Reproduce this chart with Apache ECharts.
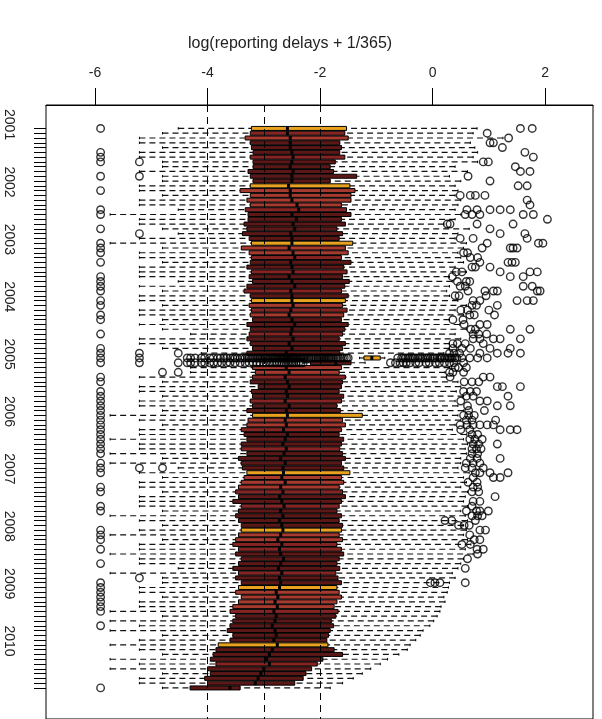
<!DOCTYPE html>
<html><head><meta charset="utf-8">
<script src="https://cdn.jsdelivr.net/npm/echarts@6/dist/echarts.min.js"></script>
<style>html,body{margin:0;padding:0;background:#fff}#c{width:602px;height:719px}</style>
</head><body><div id="c"></div>
<script>
// ---- data (one box per month, Jan 2001 .. Oct 2010) ----
const years = ['2001','2002','2003','2004','2005','2006','2007','2008','2009','2010'];
const xTicks = [-6, -4, -2, 0, 2];
const refLines = [-4, -3, -2];
const titleText = 'log(reporting delays + 1/365)';

const wlo = [
 -4.52,-4.80,-5.21,-5.21,-4.80,-5.21,-5.21,-4.80,-4.80,-5.21,-4.80,-4.80,
 -5.21,-5.21,-4.80,-5.21,-5.21,-4.52,-5.73,-5.21,-5.21,-4.80,-4.52,-5.21,
 -5.73,-4.80,-5.21,-5.21,-4.80,-5.21,-5.21,-5.21,-4.52,-5.21,-4.80,-5.21,
 -5.21,-4.80,-5.21,-5.21,-4.80,-5.21,-4.80,-4.30,-5.21,-5.21,-4.80,-4.11,
 -1.30,-2.29,-4.30,-4.30,-5.21,-4.80,-5.21,-5.21,-4.80,-5.21,-5.21,-4.80,
 -5.73,-5.21,-4.80,-5.21,-5.21,-5.73,-5.21,-5.21,-5.73,-4.80,-5.73,-4.52,
 -5.21,-4.80,-5.21,-5.21,-4.80,-5.21,-5.21,-5.21,-4.80,-5.73,-5.21,-4.80,
 -5.21,-5.73,-4.80,-5.21,-5.21,-5.73,-5.21,-5.21,-4.52,-5.73,-4.80,-4.80,
 -5.21,-5.21,-4.80,-5.21,-5.21,-5.73,-4.80,-5.73,-5.21,-5.73,-4.80,-5.21,
 -5.73,-5.21,-4.80,-5.73,-5.21,-5.73,-4.80,-5.21,-5.21,-4.80
];
const q1 = [
 -3.22,-3.24,-3.33,-3.24,-3.22,-3.19,-3.24,-3.19,-3.19,-3.28,-3.24,-3.19,
 -3.24,-3.42,-3.24,-3.30,-3.24,-3.33,-3.28,-3.28,-3.35,-3.30,-3.38,-3.26,
 -3.22,-3.40,-3.26,-3.22,-3.24,-3.30,-3.22,-3.26,-3.20,-3.30,-3.35,-3.24,
 -3.22,-3.26,-3.22,-3.24,-3.20,-3.30,-3.24,-3.26,-3.30,-3.24,-3.20,-3.30,
 -1.22,-2.17,-3.20,-3.15,-3.20,-3.24,-3.10,-3.22,-3.20,-3.24,-3.20,-3.30,
 -3.20,-3.28,-3.30,-3.40,-3.35,-3.30,-3.40,-3.40,-3.30,-3.45,-3.40,-3.38,
 -3.30,-3.35,-3.40,-3.45,-3.50,-3.45,-3.55,-3.40,-3.45,-3.50,-3.45,-3.40,
 -3.40,-3.45,-3.50,-3.55,-3.45,-3.50,-3.40,-3.45,-3.55,-3.45,-3.50,-3.40,
 -3.45,-3.50,-3.40,-3.45,-3.55,-3.60,-3.50,-3.55,-3.60,-3.65,-3.55,-3.60,
 -3.81,-3.85,-3.90,-3.95,-3.85,-4.00,-3.95,-4.05,-4.00,-4.31
];
const med = [
 -2.58,-2.58,-2.53,-2.53,-2.53,-2.50,-2.48,-2.50,-2.53,-2.48,-2.50,-2.50,
 -2.56,-2.53,-2.53,-2.50,-2.41,-2.38,-2.50,-2.42,-2.48,-2.45,-2.52,-2.50,
 -2.50,-2.55,-2.48,-2.45,-2.52,-2.50,-2.48,-2.55,-2.50,-2.45,-2.52,-2.50,
 -2.50,-2.48,-2.52,-2.55,-2.50,-2.45,-2.50,-2.52,-2.48,-2.55,-2.50,-2.60,
 -1.08,-1.72,-2.60,-2.55,-2.62,-2.58,-2.55,-2.60,-2.58,-2.62,-2.55,-2.60,
 -2.58,-2.62,-2.60,-2.65,-2.58,-2.62,-2.66,-2.60,-2.64,-2.70,-2.62,-2.66,
 -2.65,-2.68,-2.62,-2.70,-2.66,-2.72,-2.68,-2.64,-2.70,-2.66,-2.72,-2.68,
 -2.66,-2.70,-2.75,-2.68,-2.72,-2.70,-2.65,-2.70,-2.74,-2.68,-2.72,-2.70,
 -2.72,-2.78,-2.75,-2.80,-2.76,-2.82,-2.78,-2.80,-2.85,-2.80,-2.78,-2.82,
 -2.76,-2.85,-2.90,-2.95,-2.90,-3.00,-3.05,-3.10,-3.15,-3.60
];
const q3 = [
 -1.53,-1.56,-1.50,-1.65,-1.62,-1.65,-1.56,-1.73,-1.82,-1.76,-1.35,-1.82,
 -1.47,-1.38,-1.45,-1.45,-1.62,-1.53,-1.45,-1.62,-1.55,-1.70,-1.60,-1.66,
 -1.42,-1.55,-1.50,-1.62,-1.45,-1.58,-1.52,-1.60,-1.48,-1.56,-1.62,-1.50,
 -1.55,-1.60,-1.52,-1.58,-1.62,-1.50,-1.56,-1.60,-1.66,-1.55,-1.60,-1.65,
 -0.93,-1.45,-1.62,-1.66,-1.55,-1.60,-1.62,-1.66,-1.58,-1.62,-1.70,-1.64,
 -1.25,-1.60,-1.55,-1.62,-1.66,-1.58,-1.62,-1.65,-1.60,-1.55,-1.62,-1.58,
 -1.47,-1.62,-1.58,-1.66,-1.60,-1.55,-1.62,-1.66,-1.70,-1.62,-1.66,-1.60,
 -1.62,-1.66,-1.60,-1.70,-1.62,-1.58,-1.66,-1.70,-1.65,-1.72,-1.68,-1.62,
 -1.70,-1.66,-1.62,-1.70,-1.75,-1.68,-1.72,-1.80,-1.76,-1.82,-1.85,-1.88,
 -1.86,-1.75,-1.60,-1.95,-2.05,-2.15,-2.25,-2.30,-2.45,-3.42
];
const whi = [
 0.79,0.72,1.25,0.67,0.75,0.80,0.72,0.80,0.40,0.62,0.30,0.50,
 0.40,0.45,0.40,0.50,0.45,0.40,0.50,0.40,0.20,0.65,0.45,0.40,
 0.60,0.55,0.45,0.50,0.55,0.40,0.60,0.30,0.35,0.30,0.25,0.30,
 0.45,0.60,0.40,0.55,0.30,0.48,0.60,0.40,0.50,0.30,0.30,0.20,
 -0.85,-1.20,0.30,0.22,0.25,0.45,0.50,0.42,0.55,0.40,0.45,0.55,
 0.45,0.50,0.40,0.35,0.60,0.55,0.62,0.58,0.60,0.50,0.50,0.45,
 0.65,0.55,0.60,0.50,0.62,0.58,0.55,0.62,0.50,0.58,0.62,0.55,
 0.60,0.55,0.62,0.68,0.58,0.72,0.55,0.50,0.45,0.35,0.40,0.30,
 0.28,0.26,0.20,0.22,0.15,0.13,0.08,0.02,-0.05,-0.17,-0.22,-0.30,
 -0.40,-0.45,-0.60,-0.80,-0.93,-1.10,-1.25,-1.41,-1.60,-1.82
];
// fill class per month: Y yellow, L light, M medium, D dark
const fillCodes =
 'YMLDDDMDDDDD' + 'YLLLLMDDDDDD' + 'YLLMDDMDDDMD' + 'YLMLDDDMDDDD' + 'YDLLMDDDDMDD' +
 'YLLMDDDMDDDD' + 'YLLLMDDMDDDD' + 'YLLMMDDDDMDD' + 'YLLLLMDDDDDD' + 'YDDDMDDDDD';

// outliers: [monthIndex, value]
const lowOutliers = [
 [0,-5.9],[5,-5.9],[6,-5.9],[7,-5.9],[10,-5.9],[13,-5.9],[17,-5.9],[18,-5.9],[21,-5.9],
 [24,-5.9],[25,-5.9],[26,-5.9],[28,-5.9],[31,-5.9],[32,-5.9],[33,-5.9],[34,-5.9],[36,-5.9],
 [37,-5.9],[39,-5.9],[40,-5.9],[43,-5.9],[46,-5.9],[47,-5.9],[48,-5.9],[49,-5.9],[52,-5.9],
 [53,-5.9],[55,-5.9],[56,-5.9],[57,-5.9],[58,-5.9],[59,-5.9],[60,-5.9],[61,-5.9],[62,-5.9],
 [63,-5.9],[64,-5.9],[65,-5.9],[66,-5.9],[67,-5.9],[68,-5.9],[70,-5.9],[71,-5.9],[72,-5.9],
 [75,-5.9],[76,-5.9],[79,-5.9],[80,-5.9],[84,-5.9],[85,-5.9],[86,-5.9],[88,-5.9],[91,-5.9],
 [95,-5.9],[96,-5.9],[97,-5.9],[98,-5.9],[99,-5.9],[100,-5.9],[101,-5.9],[104,-5.9],[117,-5.9],
 [7,-5.21],[10,-5.21],[22,-5.21],[47,-5.21],[48,-5.21],[49,-5.21],[71,-5.21],[94,-5.21],
 [47,-4.52],[51,-4.80],[51,-4.52],[71,-4.80],
 [48,-4.36],[48,-4.30],[48,-4.22],[48,-4.11],[48,-4.05],[48,-3.96],[48,-3.90],[48,-3.82],[48,-3.77],
 [48,-3.71],[48,-3.66],[48,-3.60],[48,-3.55],[48,-3.51],[48,-3.47],[48,-3.42],[48,-3.38],[48,-3.33],
 [48,-3.29],[48,-3.26],[48,-3.22],[48,-3.19],[48,-3.16],[48,-3.12],[48,-3.10],[48,-3.07],[48,-3.04],
 [48,-3.01],[48,-2.98],[48,-2.96],[48,-2.93],[48,-2.90],[48,-2.88],[48,-2.86],[48,-2.83],[48,-2.81],
 [48,-2.79],[48,-2.77],[48,-2.74],[48,-2.72],[48,-2.70],[48,-2.68],[48,-2.66],[48,-2.64],[48,-2.63],
 [48,-2.61],[48,-2.59],[48,-2.57],[48,-2.55],[48,-2.53],[48,-2.51],[48,-2.50],[48,-2.48],[48,-2.47],
 [48,-2.45],[48,-2.43],[48,-2.41],[48,-2.38],[48,-2.36],[48,-2.34],[48,-2.31],[48,-2.29],[48,-2.27],
 [48,-2.24],[48,-2.21],[48,-2.19],[48,-2.16],[48,-2.13],[48,-2.10],[48,-2.07],[48,-2.04],[48,-2.02],
 [48,-1.99],[48,-1.97],[48,-1.94],[48,-1.92],[48,-1.89],[48,-1.87],[48,-1.85],[48,-1.83],[48,-1.81],
 [48,-1.79],[48,-1.76],[48,-1.72],[48,-1.68],[48,-1.64],[48,-1.60],[48,-1.57],[48,-1.53],[48,-1.50],
 [49,-4.52],[49,-4.36],[49,-4.30],[49,-4.22],[49,-4.11],[49,-4.05],[49,-3.96],[49,-3.89],[49,-3.82],
 [49,-3.75],[49,-3.66],[49,-3.60],[49,-3.51],[49,-3.42],[49,-3.33],[49,-3.26],[49,-3.19],[49,-3.12],
 [49,-3.07],[49,-3.01],[49,-2.96],[49,-2.90],[49,-2.86],[49,-2.81],[49,-2.77],[49,-2.72],[49,-2.68],
 [49,-2.64],[49,-2.61],[49,-2.57],[49,-2.53],[49,-2.50],[49,-2.47],[49,-2.43],[49,-2.38],[49,-2.34],
 [49,-2.30]
];
const highOutliers = [
 [0,1.56],[0,1.77],[1,0.97],[2,1.35],[3,1.02],[3,1.08],[4,1.24],[5,1.64],[6,1.79],[7,0.90],
 [7,0.99],[8,1.47],[9,1.56],[9,1.73],[10,0.63],[11,1.02],[12,1.52],[12,1.68],[14,0.49],[14,0.67],
 [14,0.76],[14,0.93],[15,1.68],[16,1.73],[17,0.61],[17,0.79],[17,1.02],[17,1.20],[17,1.38],[18,0.58],
 [18,0.70],[18,0.84],[18,1.61],[18,1.79],[19,2.04],[20,0.26],[20,0.31],[20,0.79],[20,1.43],[21,1.02],
 [22,1.20],[22,1.64],[23,0.49],[23,0.72],[23,1.68],[24,1.88],[24,1.96],[24,0.97],[25,0.88],[25,1.38],
 [25,1.43],[25,1.50],[27,0.67],[28,0.84],[28,1.34],[28,1.41],[28,1.47],[29,1.02],[30,1.20],[30,1.73],
 [30,1.86],[31,1.38],[31,1.61],[31,0.35],[32,0.44],[33,0.49],[33,1.61],[33,1.77],[34,0.63],[34,0.93],
 [34,1.08],[34,1.15],[34,1.86],[34,1.91],[36,0.72],[36,0.84],[37,1.15],[36,1.50],[36,1.68],[36,1.79],
 [40,0.36],[40,0.54],[41,0.84],[41,0.97],[43,0.72],[44,1.08],[44,1.20],[42,1.38],[44,1.56],[42,1.73],
 [44,0.72],[44,0.84],[46,0.36],[46,0.52],[46,0.67],[47,0.84],[46,1.02],[47,1.15],[47,1.34],[46,1.38],
 [47,1.56],
 [26,0.55],[26,0.62],[27,0.80],[29,0.70],[29,0.76],[30,0.42],[30,0.52],[32,0.60],[32,0.66],[33,0.58],
 [35,0.40],[35,0.47],[35,0.95],[37,0.70],[37,0.78],[38,0.50],[38,0.62],[38,1.00],[39,0.66],[39,0.74],
 [39,1.10],[41,0.56],[42,0.68],[42,0.76],[43,0.82],[43,0.96],[45,0.36],[45,0.44],[45,0.58],[45,0.90],
 [47,0.30],[47,0.38],[47,0.48],
 [48,-0.62],[48,-0.55],[48,-0.52],[48,-0.48],[48,-0.44],[48,-0.41],[48,-0.37],[48,-0.34],[48,-0.31],
 [48,-0.26],[48,-0.22],[48,-0.18],[48,-0.14],[48,-0.11],[48,-0.08],[48,-0.04],[48,0.01],[48,0.04],
 [48,0.08],[48,0.12],[48,0.15],[48,0.17],[48,0.22],[48,0.26],[48,0.30],[48,0.33],[48,0.35],[48,0.40],
 [48,0.43],[48,0.52],[48,0.66],[48,0.80],[48,0.97],
 [49,-0.75],[49,-0.66],[49,-0.58],[49,-0.52],[49,-0.47],[49,-0.40],[49,-0.30],[49,-0.24],[49,-0.12],
 [49,-0.06],[49,0.05],[49,0.12],[49,0.21],[49,0.30],[49,0.38],[49,0.55],
 [50,0.40],[50,0.46],[50,0.60],[51,0.30],[51,0.36],[51,0.55],[53,0.56],[53,0.82],[55,0.55],[55,0.78],
 [56,0.60],[56,0.72],[57,0.50],[58,0.62],[59,0.64],[59,0.92],[60,0.55],[60,0.64],[60,0.74],[61,0.60],
 [61,0.70],[61,1.12],[62,0.97],[63,0.50],[63,0.66],[64,0.70],[64,0.80],[65,0.66],[65,0.75],[65,0.88],
 [66,0.72],[66,0.82],[67,0.70],[67,0.78],[67,0.86],[68,0.70],[68,0.80],[70,0.60],[70,0.72],[70,0.84],
 [71,0.70],[72,0.76],[72,0.84],[73,0.72],[75,0.72],[75,0.80],[76,0.70],[76,0.82],[78,0.72],[78,0.84],
 [79,0.70],[81,0.70],[81,0.80],[81,0.88],[83,0.56],[85,0.66],[86,0.74],[86,0.84],[89,0.80],[90,0.62],
 [52,0.31],[53,0.70],[55,0.67],[52,0.90],[52,1.02],[54,1.15],[54,1.24],[56,1.34],[54,1.56],[57,0.84],
 [57,0.97],[58,1.15],[58,1.38],[62,0.49],[62,0.61],[62,0.72],[62,0.84],[62,1.08],[63,1.20],[63,1.38],
 [63,1.50],[66,1.15],[69,1.20],[72,1.34],[69,0.67],[69,0.79],[71,0.90],[72,1.02],[73,1.08],[73,1.20],
 [71,0.58],[74,0.63],[74,0.79],[77,1.11],[80,0.60],[80,0.78],[80,0.84],[80,0.99],[82,0.22],[82,0.34],
 [83,0.46],[83,0.65],[82,0.76],[84,0.84],[84,0.94],[87,0.52],[87,0.67],[88,0.79],[88,0.90],[92,0.58],
 [95,-0.04],[95,0.04],[95,0.13],[95,0.58]
];

// ---- chart ----
const fills = {Y:'#E8A21E', L:'#A63A2E', M:'#862424', D:'#5C1717'};
const boxData = q1.map((v, i) => [i, wlo[i], q1[i], med[i], q3[i], whi[i]]);
const tickIdx = q1.map((v, i) => i);
const yearIdx = years.map((y, k) => k * 12 - 0.8);
const FONT = 'Liberation Sans, Arial, sans-serif';

function renderBox(params, api) {
  const i = api.value(0);
  const lo = api.value(1), a = api.value(2), m = api.value(3), b = api.value(4), hi = api.value(5);
  const yc = api.coord([0, i])[1];
  const band = api.size([0, 1])[1];
  const h = band * 0.42;
  const X = v => api.coord([v, i])[0];
  const dash = {stroke: '#111', lineWidth: 1.2, lineDash: [6, 4]};
  const solid = {stroke: '#000', lineWidth: 1};
  return {type: 'group', children: [
    {type: 'line', shape: {x1: X(lo), y1: yc, x2: X(a), y2: yc}, style: dash},
    {type: 'line', shape: {x1: X(hi), y1: yc, x2: X(b), y2: yc}, style: dash},
    {type: 'line', shape: {x1: X(lo), y1: yc - h * 0.6, x2: X(lo), y2: yc + h * 0.6}, style: solid},
    {type: 'line', shape: {x1: X(hi), y1: yc - h * 0.6, x2: X(hi), y2: yc + h * 0.6}, style: solid},
    {type: 'rect', shape: {x: X(a), y: yc - h, width: X(b) - X(a), height: 2 * h},
      style: {fill: fills[fillCodes[i]], stroke: '#000', lineWidth: 1}},
    {type: 'line', shape: {x1: X(m), y1: yc - h, x2: X(m), y2: yc + h}, style: {stroke: '#000', lineWidth: 3}}
  ]};
}

const chart = echarts.init(document.getElementById('c'), null, {renderer: 'canvas'});
chart.setOption({
  animation: false,
  backgroundColor: '#fff',
  title: {text: titleText, left: 183, top: 31,
    textStyle: {fontFamily: FONT, fontSize: 16, fontWeight: 'normal', color: '#222'}},
  grid: {left: 46, right: 9, top: 105, bottom: -8, show: true, borderColor: '#000', borderWidth: 1},
  xAxis: {type: 'value', position: 'top', min: -6.87, max: 2.85,
    axisLine: {show: true, onZero: false, lineStyle: {color: '#000'}},
    axisTick: {show: true, customValues: xTicks, length: 17, lineStyle: {color: '#000'}},
    axisLabel: {customValues: xTicks, margin: 25, fontFamily: FONT, fontSize: 14, color: '#222'},
    splitLine: {show: false}},
  yAxis: {type: 'value', inverse: true, min: -4.9, max: 123.5,
    axisLine: {show: false, onZero: false},
    axisTick: {show: true, customValues: tickIdx, length: 12, lineStyle: {color: '#000'}},
    axisLabel: {customValues: yearIdx, rotate: -90, margin: 30, fontFamily: FONT, fontSize: 14, color: '#222',
      formatter: v => years[Math.round((v + 0.8) / 12)]},
    splitLine: {show: false}},
  series: [
    {type: 'custom', renderItem: renderBox, data: boxData, encode: {x: [1, 2, 3, 4, 5], y: 0}, z: 2, clip: true},
    {type: 'scatter', data: lowOutliers.map(p => [p[1], p[0]]).concat(highOutliers.map(p => [p[1], p[0]])),
      symbol: 'circle', symbolSize: 7.5, z: 3,
      itemStyle: {color: 'rgba(0,0,0,0)', borderColor: '#000', borderWidth: 1.4},
      markLine: {silent: true, symbol: 'none', label: {show: false},
        lineStyle: {color: '#000', width: 1, type: [7, 5]},
        data: refLines.map(v => ({xAxis: v}))}}
  ]
});
</script></body></html>
